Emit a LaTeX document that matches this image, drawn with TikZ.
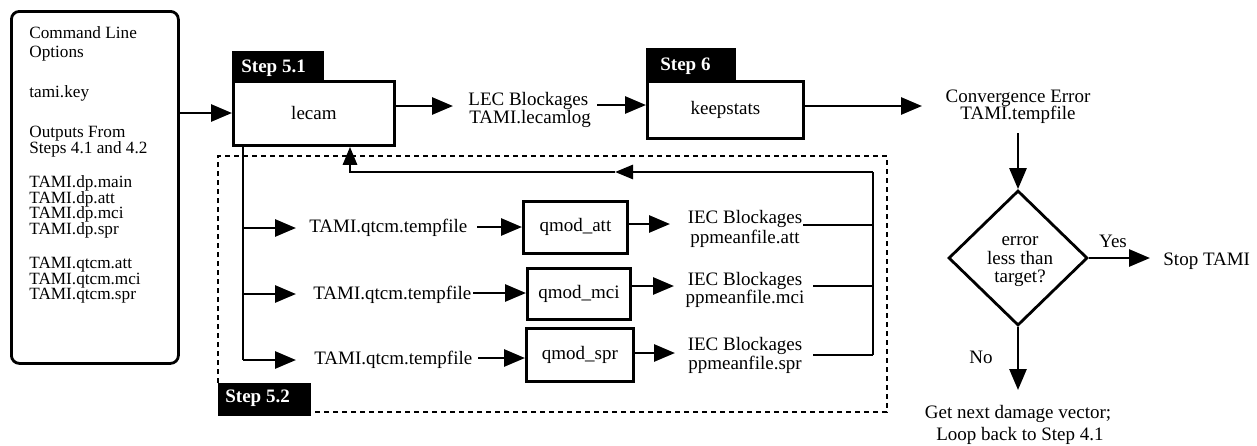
\documentclass[tikz,border=0pt]{standalone}
\usepackage{fontspec}
\setmainfont{Liberation Serif}
\usetikzlibrary{arrows.meta,shapes.geometric}
\begin{document}
\begin{tikzpicture}[x=1pt,y=-1pt,line width=2.8pt,
  txt/.style={font=\fontsize{19}{18}\selectfont,inner sep=0pt,anchor=base},
  txtl/.style={txt,anchor=base west},
  opttxt/.style={font=\fontsize{17.2}{16}\selectfont,inner sep=0pt,anchor=base west},
  boxn/.style={draw,rectangle,inner sep=0pt,anchor=north west,font=\fontsize{19}{18}\selectfont},
  tab/.style={fill=black,draw=black,line width=0.5pt,rectangle,inner sep=0pt,anchor=north west},
  tabtxt/.style={font=\fontsize{19}{18}\selectfont\bfseries,text=white,inner sep=0pt,anchor=base west},
  arr/.style={-{Triangle[length=21pt,width=17pt]}},
  arrs/.style={-{Triangle[length=18pt,width=14pt]}},
  dsh/.style={line width=2pt,dash pattern=on 5pt off 4pt}]
\useasboundingbox (0,0) rectangle (1257,445);
% left input box
\node[draw,rounded corners=8pt,minimum width=167pt,minimum height=352pt,anchor=north west,inner sep=0pt] (opts) at (10,10) {};
\node[opttxt] (o1) at (28,38) {Command Line};
\node[opttxt] (o2) at (28,57) {Options};
\node[opttxt] (o3) at (28,97) {tami.key};
\node[opttxt] (o4) at (28,137) {Outputs From};
\node[opttxt] (o5) at (28,153) {Steps 4.1 and 4.2};
\node[opttxt] (o6) at (28,187.5) {TAMI.dp.main};
\node[opttxt] (o7) at (28,203) {TAMI.dp.att};
\node[opttxt] (o8) at (28,218.5) {TAMI.dp.mci};
\node[opttxt] (o9) at (28,234) {TAMI.dp.spr};
\node[opttxt] (o10) at (28,268.5) {TAMI.qtcm.att};
\node[opttxt] (o11) at (28,284) {TAMI.qtcm.mci};
\node[opttxt] (o12) at (28,299.5) {TAMI.qtcm.spr};
% dashed step 5.2 frame
\draw[dsh] (218,383) -- (218,156) -- (887,156) -- (887,412) -- (310,412);
\node[tab,minimum width=92pt,minimum height=32pt] (s52) at (218,383) {};
\node[tabtxt] (s52t) at (224,402) {Step 5.2};
% step 5.1
\node[tab,minimum width=91pt,minimum height=29pt] (s51) at (232,51) {};
\node[tabtxt] (s51t) at (240,72) {Step 5.1};
\node[boxn,minimum width=161pt,minimum height=64pt] (lecam) at (232,80) {lecam};
% step 6
\node[tab,minimum width=89pt,minimum height=32pt] (s6) at (646,48) {};
\node[tabtxt] (s6t) at (659,70) {Step 6};
\node[boxn,minimum width=156pt,minimum height=57pt] (keep) at (646,80) {keepstats};
% LEC blockages
\node[txtl] (lec1) at (467,105) {LEC Blockages};
\node[txtl] (lec2) at (468,123) {TAMI.lecamlog};
% convergence
\node[txt] (cv1) at (1018,102) {Convergence Error};
\node[txt] (cv2) at (1018,119) {TAMI.tempfile};
% qmod rows
\node[txtl] (q1t) at (308,232) {TAMI.qtcm.tempfile};
\node[txtl] (q2t) at (312,299) {TAMI.qtcm.tempfile};
\node[txtl] (q3t) at (313,364) {TAMI.qtcm.tempfile};
\node[boxn,minimum width=104pt,minimum height=52pt] (qa) at (522,200) {qmod\_att};
\node[boxn,minimum width=103pt,minimum height=51pt] (qm) at (526,267) {qmod\_mci};
\node[boxn,minimum width=107pt,minimum height=53pt] (qs) at (525,327) {qmod\_spr};
\node[txt] (i1a) at (745,223) {IEC Blockages};
\node[txt] (i1b) at (745,243) {ppmeanfile.att};
\node[txt] (i2a) at (745,285) {IEC Blockages};
\node[txt] (i2b) at (745,303) {ppmeanfile.mci};
\node[txt] (i3a) at (745,350) {IEC Blockages};
\node[txt] (i3b) at (745,369) {ppmeanfile.spr};
% decision
\node[draw,diamond,minimum width=139pt,minimum height=135pt,inner sep=0pt] (dia) at (1018,258) {};
\node[txt] (d1) at (1020,245) {error};
\node[txt] (d2) at (1020,264) {less than};
\node[txt] (d3) at (1020,282) {target?};
\node[txt] (yes) at (1113,247) {Yes};
\node[txtl] (stop) at (1162,265) {Stop TAMI};
\node[txt] (no) at (981,363) {No};
\node[txt] (nx1) at (1018,418) {Get next damage vector;};
\node[txt] (nx2) at (1020,440) {Loop back to Step 4.1};
% coordinates
\coordinate (trTop) at (243,144);
\coordinate (trBot) at (243,360);
\coordinate (busTop) at (873,172);
\coordinate (busBot) at (873,355);
\coordinate (retMid) at (615,172);
\coordinate (retCorner) at (350,172);
% connectors top row
\draw[arr] (opts.east |- 0,113) -- (lecam.west |- 0,113);
\draw[arr] (lecam.east |- 0,106) -- (453,106);
\draw[arr] (597,105) -- (keep.west |- 0,105);
\draw[arr] (keep.east |- 0,106) -- (922,106);
\draw[arr] (1018,133) -- (dia.north);
\draw[arr] (dia.east) -- (1150,258);
\draw[arr] (dia.south) -- (1018,390);
% trunk and branches
\draw (trTop) -- (trBot);
\draw[arr] (243,228) -- (296,228);
\draw[arr] (243,294) -- (296,294);
\draw[arr] (trBot) -- (296,360);
\draw[arr] (477,227) -- (qa.west |- 0,227);
\draw[arr] (473,293) -- (qm.west |- 0,293);
\draw[arr] (478,358) -- (qs.west |- 0,358);
\draw[arr] (qa.east |- 0,224) -- (670,224);
\draw[arr] (qm.east |- 0,286) -- (674,286);
\draw[arr] (qs.east |- 0,353) -- (675,353);
% return bus
\draw (803,225) -- (busTop |- 0,225);
\draw (813,286) -- (busTop |- 0,286);
\draw (813,355) -- (busBot);
\draw (busBot) -- (busTop);
\draw[arrs] (busTop) -- (retMid);
\draw[arrs] (retMid) -- (retCorner) -- (lecam.south -| retCorner);
\end{tikzpicture}
\end{document}
